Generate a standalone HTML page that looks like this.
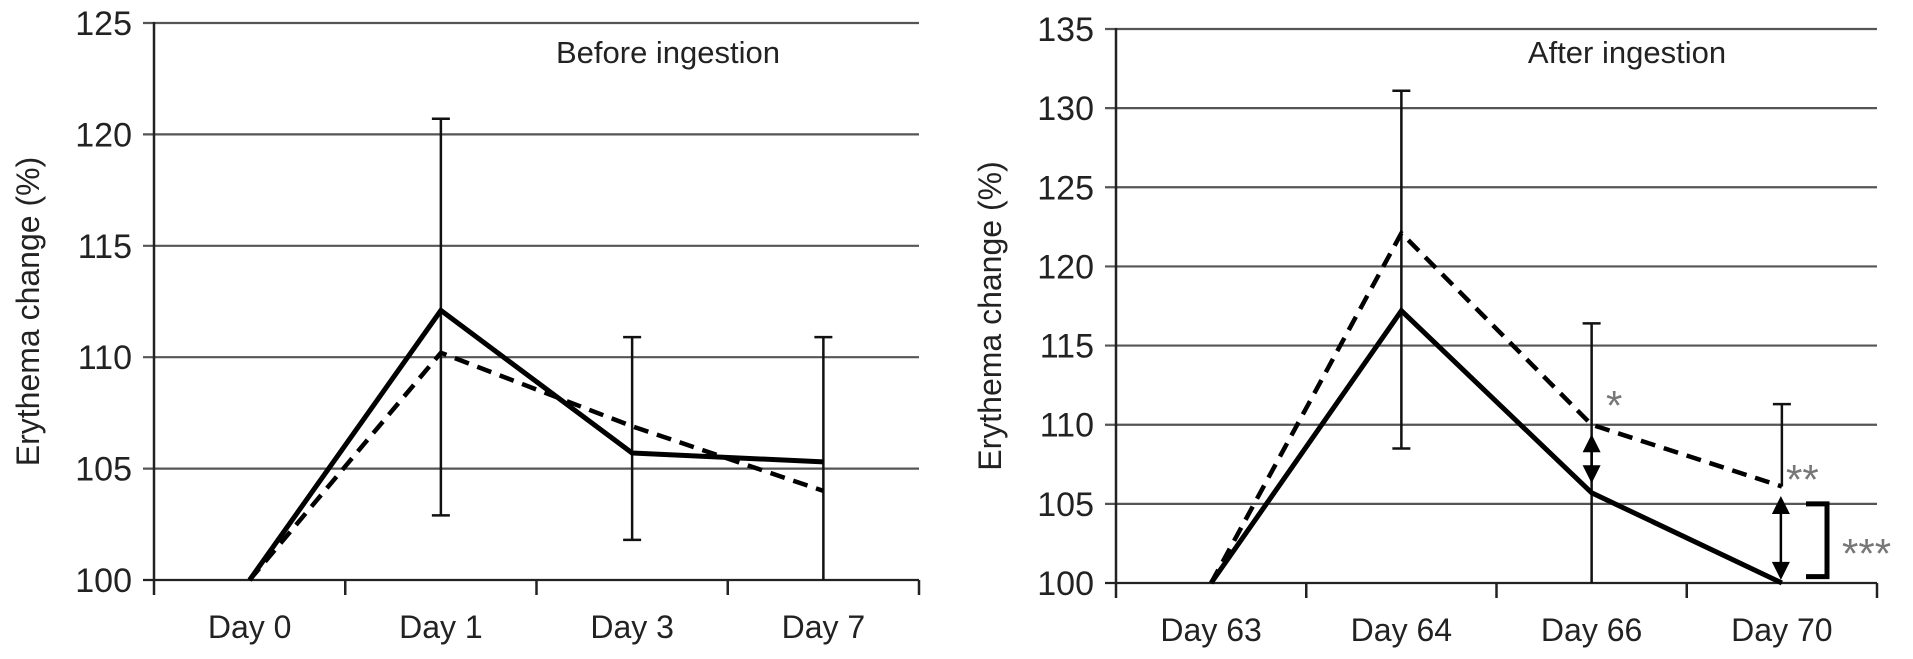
<!DOCTYPE html>
<html><head><meta charset="utf-8"><style>
html,body{margin:0;padding:0;background:#fff;}
svg{display:block;font-family:"Liberation Sans",Arial,sans-serif;}
</style></head><body>
<svg id="c" width="1913" height="659" viewBox="0 0 1913 659" xmlns="http://www.w3.org/2000/svg"></svg>
<script>
// Left panel data
const leftCategories = ["Day 0","Day 1","Day 3","Day 7"];
const leftSolid = [100, 112.1, 105.7, 105.3];
const leftDashed = [100, 110.2, 106.9, 104.0];
const leftErrLow = [null, 102.9, 101.8, 100];
const leftErrHigh = [null, 120.7, 110.9, 110.9];
const leftErrLowCap = [false, true, true, false];
const leftTicks = [100,105,110,115,120,125];
// Right panel data
const rightCategories = ["Day 63","Day 64","Day 66","Day 70"];
const rightSolid = [100, 117.2, 105.7, 100.0];
const rightDashed = [100, 122.1, 110.0, 106.1];
const rightErrLow = [null, 108.5, 100, 106.1];
const rightErrHigh = [null, 131.1, 116.4, 111.3];
const rightErrLowCap = [false, true, false, false];
const rightTicks = [100,105,110,115,120,125,130,135];

const svg = document.getElementById('c');
const NS = "http://www.w3.org/2000/svg";
function mk(tag, attrs, parent){
  const e = document.createElementNS(NS, tag);
  for (const k in attrs) e.setAttribute(k, attrs[k]);
  (parent||svg).appendChild(e);
  return e;
}

function panel(o){
  const g = mk('g', {});
  
  
  const yMin = o.ticks[0], yMax = o.ticks[o.ticks.length-1];
  const y = v => o.y0 + (v - yMin) / (yMax - yMin) * (o.y1 - o.y0);
  const step = (o.x1 - o.x0) / o.cats.length;
  const x = i => o.x0 + step * (i + 0.5);
  o.ticks.forEach(t => {
    const gl = mk('line', {x1:o.x0-11, x2:o.x1, y1:y(t), y2:y(t), stroke: t===yMin?'#222':'#555', 'stroke-width':2.2}, g);
    
    
    const tl = mk('text', {x:o.x0-22, y:y(t)+12, 'text-anchor':'end', 'font-size':34, fill:'#222'}, g);
    tl.textContent = t;
    
    
  });
  const ya = mk('line', {x1:o.x0, x2:o.x0, y1:y(yMax)-1, y2:o.y0+15, stroke:'#222','stroke-width':2.5}, g);
  
  
  for (let i=1;i<=o.cats.length;i++){
    const tk = mk('line', {x1:o.x0+step*i, x2:o.x0+step*i, y1:o.y0, y2:o.y0+15, stroke:'#222','stroke-width':2.5}, g);
    
    
  }
  o.cats.forEach((c,i) => {
    const t = mk('text', {x:x(i), y:o.y0+58, 'text-anchor':'middle', 'font-size':32, fill:'#222'}, g);
    t.textContent = c;
    
    
  });
  o.errLow.forEach((lo,i) => {
    if (lo === null) return;
    const hi = o.errHigh[i];
    const eb = mk('line', {x1:x(i), x2:x(i), y1:y(hi), y2:y(lo), stroke:'#111','stroke-width':2.5}, g);
    
    
    const cp = mk('line', {x1:x(i)-9, x2:x(i)+9, y1:y(hi), y2:y(hi), stroke:'#111','stroke-width':2.5}, g);
    
    
    if (o.lowCap[i]) {
      const cl = mk('line', {x1:x(i)-9, x2:x(i)+9, y1:y(lo), y2:y(lo), stroke:'#111','stroke-width':2.5}, g);
      
      
    }
  });
  const pts = arr => arr.map((v,i)=> x(i)+','+y(v)).join(' ');
  const sl = mk('polyline', {points:pts(o.solid), fill:'none', stroke:'#000','stroke-width':5,'stroke-linejoin':'miter'}, g);
  
  
  const dl = mk('polyline', {points:pts(o.dashed), fill:'none', stroke:'#000','stroke-width':4.5,'stroke-dasharray':'15 9'}, g);
  
  
  const tt = mk('text', {x:o.titleX, y:63, 'text-anchor':'middle', 'font-size':31, fill:'#222'}, g);
  tt.textContent = o.title;
  
  
  const cy = (o.y0 + y(yMax))/2 + 10;
  const yt = mk('text', {x:o.ytX, y:cy, 'text-anchor':'middle', 'font-size':32, fill:'#222', transform:'rotate(-90 '+o.ytX+' '+cy+')'}, g);
  yt.textContent = 'Erythema change (%)';
  
  
  return {x, y, g};
}

panel({name:'before-ingestion-panel', x0:154, x1:919, y0:580, y1:23, ticks:leftTicks, cats:leftCategories,
  solid:leftSolid, dashed:leftDashed, errLow:leftErrLow, errHigh:leftErrHigh, lowCap:leftErrLowCap,
  title:'Before ingestion', titleX:668, ytX:39});
const R = panel({name:'after-ingestion-panel', x0:1116, x1:1877, y0:583, y1:29, ticks:rightTicks, cats:rightCategories,
  solid:rightSolid, dashed:rightDashed, errLow:rightErrLow, errHigh:rightErrHigh, lowCap:rightErrLowCap,
  title:'After ingestion', titleX:1627, ytX:1001});

function dblArrow(xp, ya, yb, name){
  const a = mk('g', {}, R.g);
  
  
  mk('line', {x1:xp, x2:xp, y1:ya+15, y2:yb-15, stroke:'#000','stroke-width':2.5}, a);
  mk('polygon', {points:(xp-9)+','+(ya+18)+' '+(xp+9)+','+(ya+18)+' '+xp+','+(ya), fill:'#000'}, a);
  mk('polygon', {points:(xp-9)+','+(yb-18)+' '+(xp+9)+','+(yb-18)+' '+xp+','+(yb), fill:'#000'}, a);
}
dblArrow(R.x(2), R.y(109.4), R.y(106.3), 'day66-difference-arrow');
dblArrow(R.x(3)-1, R.y(105.5), R.y(100.2), 'day70-difference-arrow');
const br = mk('polyline', {points:'1806,'+R.y(105)+' 1827,'+R.y(105)+' 1827,'+R.y(100.4)+' 1806,'+R.y(100.4), fill:'none', stroke:'#000','stroke-width':5}, R.g);


function star(txt, xp, yp, name){
  const t = mk('text', {x:xp, y:yp, 'font-size':42, fill:'#777'}, R.g);
  t.textContent = txt;
  
  
}
star('*', 1606, 420, 'significance-star-day66');
star('**', 1786, 494, 'significance-stars-day70');
star('***', 1842, 568, 'significance-stars-bracket');
</script>
</body></html>
